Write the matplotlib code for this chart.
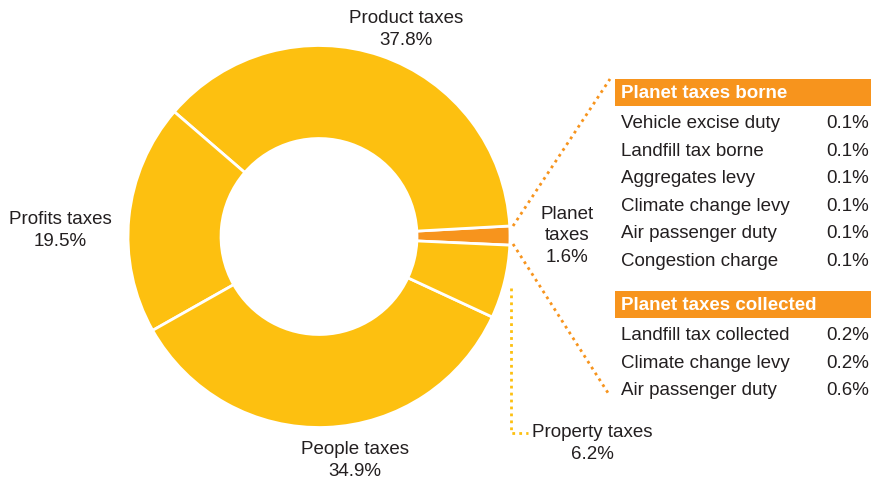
import matplotlib.pyplot as plt

plt.rcParams['font.family'] = ['Liberation Sans', 'DejaVu Sans']

# share of total tax contribution
segments = ["Planet taxes", "Product taxes", "Profits taxes", "People taxes", "Property taxes"]
shares = [1.6, 37.8, 19.5, 34.9, 6.2]

borne_items = ["Vehicle excise duty", "Landfill tax borne", "Aggregates levy",
               "Climate change levy", "Air passenger duty", "Congestion charge"]
borne_values = [0.1, 0.1, 0.1, 0.1, 0.1, 0.1]

collected_items = ["Landfill tax collected", "Climate change levy", "Air passenger duty"]
collected_values = [0.2, 0.2, 0.6]

YELLOW = "#FDC010"
ORANGE = "#F7941D"
INK = "#231F20"
FS = 13.5
LS = 1.32

W, H = 871, 482
fig = plt.figure(figsize=(W / 100, H / 100), dpi=100)
ax = fig.add_axes([0, 0, 1, 1])


def py(y):
    # pixel row (top-down) -> data y (bottom-up)
    return H - y


cx, cy, r = 319, py(236.5), 191
colors = [ORANGE, YELLOW, YELLOW, YELLOW, YELLOW]
ax.pie(shares, colors=colors, startangle=-2.6, counterclock=True,
       center=(cx, cy), radius=r,
       wedgeprops=dict(width=r * 0.487, edgecolor="white", linewidth=2))

# segment labels
ax.text(406, py(29.5), f"Product taxes\n{shares[1]}%", ha="center", va="center",
        fontsize=FS, color=INK, linespacing=LS)
ax.text(60, py(230.5), f"Profits taxes\n{shares[2]}%", ha="center", va="center",
        fontsize=FS, color=INK, linespacing=LS)
ax.text(355, py(460.5), f"People taxes\n{shares[3]}%", ha="center", va="center",
        fontsize=FS, color=INK, linespacing=LS)
ax.text(567, py(236), f"Planet\ntaxes\n{shares[0]}%", ha="center", va="center",
        fontsize=FS, color=INK, linespacing=LS)
ax.text(592, py(443.5), f"Property taxes\n{shares[4]}%", ha="center", va="center",
        fontsize=FS, color=INK, linespacing=LS)

# leader lines
ax.plot([513, 610], [py(226), py(79)], ls=(0, (1, 1.5)), color=ORANGE, lw=2)
ax.plot([513, 610], [py(244), py(396)], ls=(0, (1, 1.5)), color=ORANGE, lw=2)
ax.plot([511, 511, 528], [py(288), py(433), py(433)], ls=(0, (1, 1.5)),
        color=YELLOW, lw=2)


def panel(title, top, items, values):
    ax.add_patch(plt.Rectangle((615, py(top + 26.5)), W - 615, 26.5,
                               color=ORANGE, lw=0))
    ax.text(621, py(top + 14), title, ha="left", va="center",
            fontsize=FS, color="white", fontweight="bold")
    for i, (name, val) in enumerate(zip(items, values)):
        y = py(top + 44.5 + i * 27.6)
        ax.text(621, y, name, ha="left", va="center", fontsize=FS, color=INK)
        ax.text(869, y, f"{val}%", ha="right", va="center", fontsize=FS, color=INK)


panel("Planet taxes borne", 79, borne_items, borne_values)
panel("Planet taxes collected", 291, collected_items, collected_values)

ax.set_xlim(0, W)
ax.set_ylim(0, H)
ax.set_aspect("equal")
ax.axis("off")

fig.savefig("out.png", dpi=100)
